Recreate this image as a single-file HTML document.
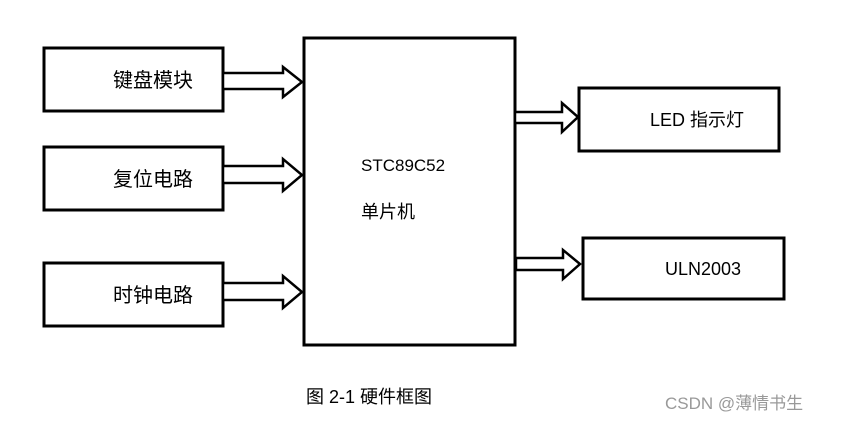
<!DOCTYPE html>
<html><head><meta charset="utf-8"><style>
html,body{margin:0;padding:0;background:#fff;width:843px;height:421px;overflow:hidden}
svg text{font-family:"Liberation Sans","Noto Sans CJK SC",sans-serif;fill:#000}
</style></head><body>
<svg width="843" height="421" viewBox="0 0 843 421" xmlns="http://www.w3.org/2000/svg">
<g fill="#fff" stroke="#000" stroke-width="3">
<rect x="44" y="48" width="179" height="63"/>
<rect x="44" y="147" width="179" height="63"/>
<rect x="44" y="263" width="179" height="63"/>
<rect x="304" y="38" width="211" height="307"/>
<rect x="579" y="88" width="200" height="63"/>
<rect x="583" y="238" width="201" height="61"/>
</g>
<g fill="#fff" stroke="#000" stroke-width="2.5" stroke-linejoin="miter">
<polygon points="223,73 283,73 283,67 302,82 283,97 283,89 223,89"/>
<polygon points="223,166 283,166 283,159 302,175 283,191 283,183 223,183"/>
<polygon points="223,283 283,283 283,276 302,292 283,308 283,300 223,300"/>
<polygon points="515,112 562,112 562,103 578,117 562,132 562,123 515,123"/>
<polygon points="516,258 563,258 563,250 580,264 563,279 563,270 516,270"/>
</g>
<text x="113" y="87" font-size="20">键盘模块</text>
<text x="113" y="186" font-size="20">复位电路</text>
<text x="113" y="302" font-size="20">时钟电路</text>
<text x="361" y="171" font-size="17">STC89C52</text>
<text x="361" y="218" font-size="18">单片机</text>
<text x="650" y="126" font-size="18">LED 指示灯</text>
<text x="665" y="275" font-size="18">ULN2003</text>
<text x="306" y="403" font-size="18">图 2-1  硬件框图</text>
<text x="665" y="409" font-size="17" style="fill:#999">CSDN @薄情书生</text>
</svg>
</body></html>
